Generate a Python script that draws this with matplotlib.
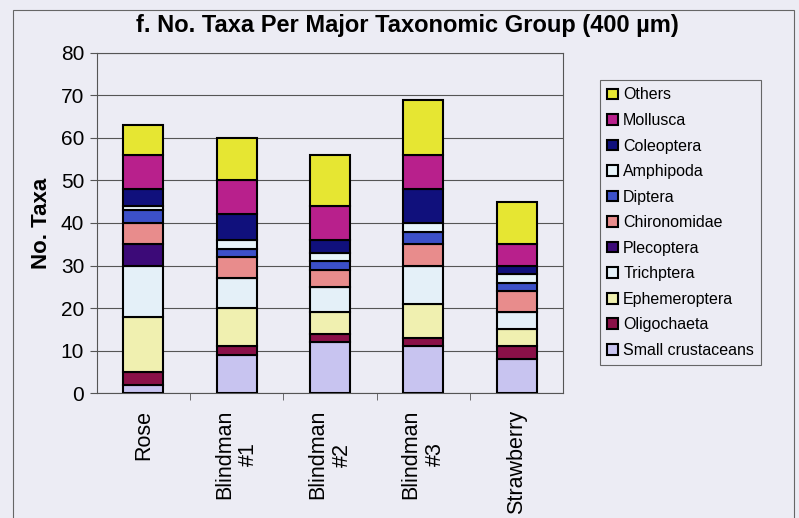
import numpy as np
import matplotlib
matplotlib.use("Agg")
import matplotlib.pyplot as plt
from matplotlib.patches import Rectangle

# data (bottom -> top of each stacked bar)
sites = ['Rose', 'Blindman\n#1', 'Blindman\n#2', 'Blindman\n#3', 'Strawberry']
groups = ['Small crustaceans', 'Oligochaeta', 'Ephemeroptera', 'Trichptera',
          'Plecoptera', 'Chironomidae', 'Diptera', 'Amphipoda', 'Coleoptera',
          'Mollusca', 'Others']
small_crustaceans = [2, 9, 12, 11, 8]
oligochaeta = [3, 2, 2, 2, 3]
ephemeroptera = [13, 9, 5, 8, 4]
trichptera = [12, 7, 6, 9, 4]
plecoptera = [5, 0, 0, 0, 0]
chironomidae = [5, 5, 4, 5, 5]
diptera = [3, 2, 2, 3, 2]
amphipoda = [1, 2, 2, 2, 2]
coleoptera = [4, 6, 3, 8, 2]
mollusca = [8, 8, 8, 8, 5]
others = [7, 10, 12, 13, 10]

values = [small_crustaceans, oligochaeta, ephemeroptera, trichptera, plecoptera,
          chironomidae, diptera, amphipoda, coleoptera, mollusca, others]
colors = ['#c8c4f0', '#8a1048', '#f0f0b0', '#e4f0f8', '#3c0a78', '#e88c8c',
          '#3c50c8', '#e8f4fa', '#10107c', '#b8208c', '#e6e632']

bg = '#ececf4'
plt.rcParams['font.family'] = ['Liberation Sans', 'DejaVu Sans']

fig = plt.figure(figsize=(7.99, 5.18), dpi=100, facecolor=bg)
ax = fig.add_axes([0.121, 0.241, 0.584, 0.657], facecolor=bg)

x = np.arange(len(sites))
bottom = np.zeros(len(sites))
for name, vals, c in zip(groups, values, colors):
    ax.bar(x, vals, width=0.43, bottom=bottom, color=c, edgecolor='black',
           linewidth=1.5, label=name, zorder=3)
    bottom += np.array(vals)

ax.set_ylim(0, 80)
ax.set_xlim(-0.5, len(sites) - 0.5)
ax.set_yticks(range(0, 81, 10))
ax.yaxis.grid(True, color='#555555', linewidth=0.8, zorder=0)
ax.tick_params(axis='y', labelsize=15, length=5, color='#555555', pad=4)

ax.set_xticks(x)
ax.set_xticklabels(sites, rotation=90, fontsize=15.5, multialignment='center')
ax.set_xticks(np.arange(0.5, len(sites) - 1, 1), minor=True)
ax.tick_params(axis='x', which='major', length=0, pad=12)
ax.tick_params(axis='x', which='minor', length=5, color='#555555')

for s in ax.spines.values():
    s.set_color('#555555')
    s.set_linewidth(0.8)

ax.set_ylabel('No. Taxa', fontsize=16, fontweight='bold', labelpad=6)

fig.text(0.51, 0.95, 'f. No. Taxa Per Major Taxonomic Group (400 µm)',
         ha='center', va='center', fontsize=17, fontweight='bold',
         family=['Liberation Sans Narrow', 'Liberation Sans', 'DejaVu Sans'])

handles, labels = ax.get_legend_handles_labels()
leg = fig.legend(handles[::-1], labels[::-1], loc='upper left',
                 bbox_to_anchor=(0.751, 0.845), fontsize=11.5,
                 frameon=True, fancybox=False, edgecolor='#444444',
                 facecolor=bg, handlelength=0.65, handleheight=0.65,
                 handletextpad=0.35, labelspacing=0.66, borderpad=0.45,
                 borderaxespad=0)
leg.get_frame().set_linewidth(0.8)

# outer chart frame
fig.patches.append(Rectangle((0.016, -0.01), 0.978, 0.99, transform=fig.transFigure,
                             fill=False, edgecolor='#666666', linewidth=0.8))

fig.savefig('out.png', dpi=100, facecolor=bg)
